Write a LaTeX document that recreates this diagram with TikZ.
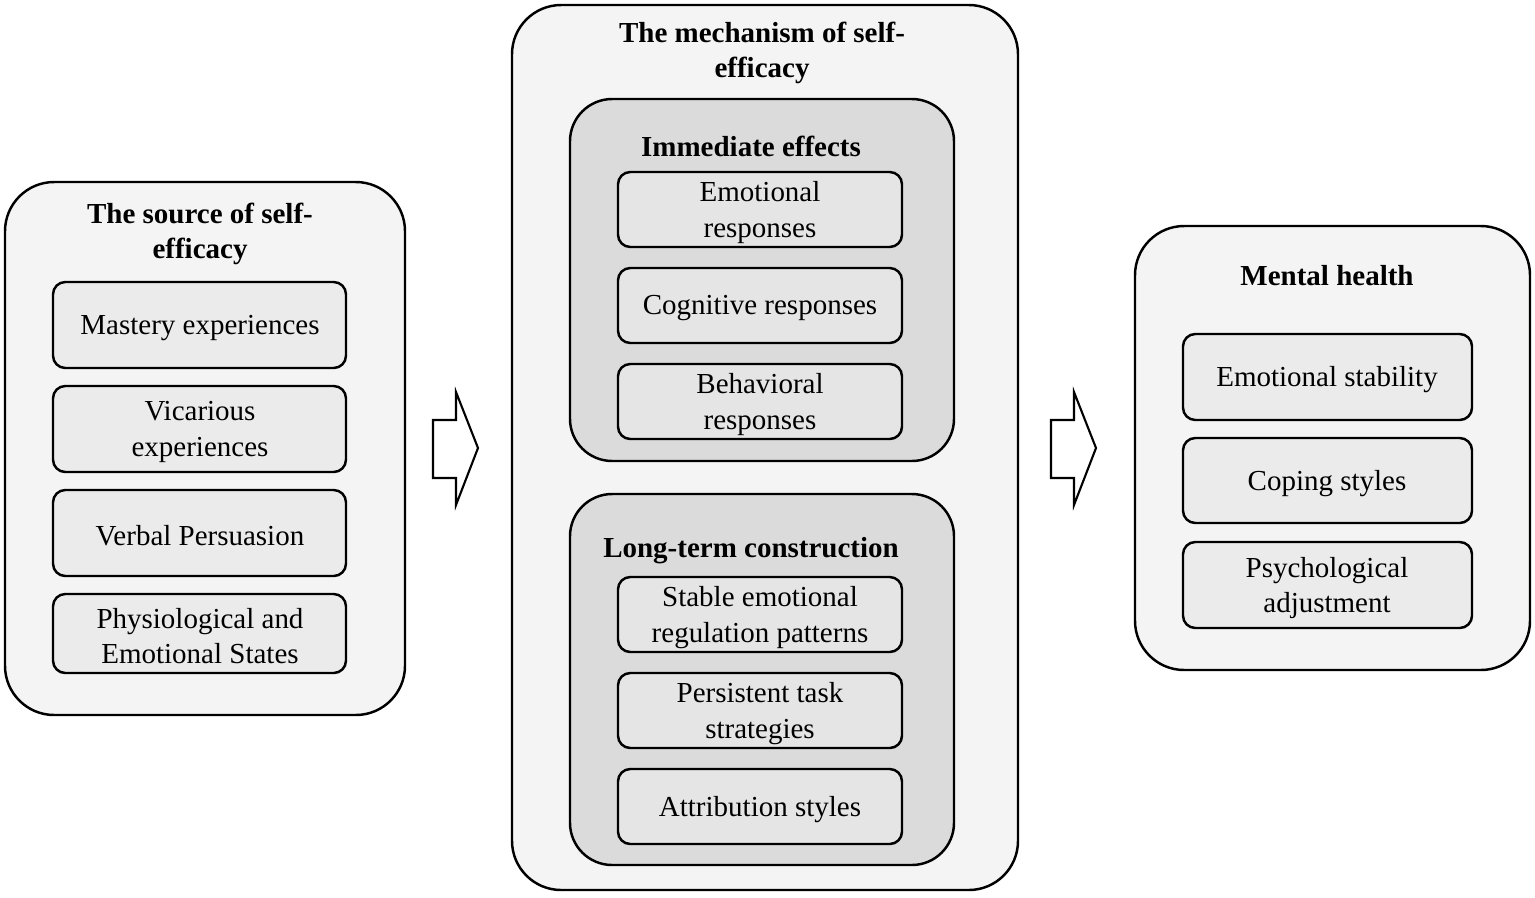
\documentclass[tikz,border=0pt]{standalone}
\usepackage{fontspec}
\setmainfont{Liberation Serif}
\begin{document}
\begin{tikzpicture}[x=0.02cm,y=-0.02cm,
 outer/.style={draw,line width=1.4pt,rounded corners=28pt,fill=gray!9},
 mid/.style={draw,line width=1.4pt,rounded corners=24pt,fill=gray!28},
 item/.style={draw,line width=1.4pt,rounded corners=7pt,align=center,font=\fontsize{16.5}{20}\selectfont},
 ttl/.style={align=center,font=\fontsize{16.5}{20}\selectfont\bfseries},
 barrow/.style={draw,line width=1.2pt,fill=white}]
\useasboundingbox (0,0) rectangle (1535,897);
% left
\draw[outer] (5,182) rectangle (405,715);
\node[ttl] (lt) at (200,234) {The source of self-\\efficacy};
\foreach \n/\a/\b/\t in {l1/282/368/Mastery experiences,l2/386/472/{Vicarious\\experiences},l3/490/576/Verbal Persuasion,l4/594/673/{Physiological and\\Emotional States}}{
 \draw[item,fill=gray!16] (53,\a) rectangle (346,\b);
 \node[item,draw=none] (\n) at (200,{(\a+\b)/2+3}) {\t};}
% middle
\draw[outer] (512,5) rectangle (1018,890);
\node[ttl] (mt) at (762,53) {The mechanism of self-\\efficacy};
\draw[mid] (570,99) rectangle (954,461);
\node[ttl] (it) at (751,146) {Immediate effects};
\draw[mid] (570,494) rectangle (954,865);
\node[ttl] (ltc) at (751,551) {Long-term construction};
\foreach \n/\a/\b/\t in {m1/172/247/{Emotional\\responses},m2/268/343/Cognitive responses,m3/364/439/{Behavioral\\responses},m4/577/652/{Stable emotional\\regulation patterns},m5/673/748/{Persistent task\\strategies},m6/769/844/Attribution styles}{
 \draw[item,fill=gray!20] (618,\a) rectangle (902,\b);
 \node[item,draw=none] (\n) at (760,{(\a+\b)/2+3}) {\t};}
% right
\draw[outer] (1135,226) rectangle (1530,670);
\node[ttl] (rt) at (1327,276) {Mental health};
\foreach \n/\a/\b/\t in {r1/334/420/Emotional stability,r2/438/523/Coping styles,r3/542/628/{Psychological\\adjustment}}{
 \draw[item,fill=gray!16] (1183,\a) rectangle (1472,\b);
 \node[item,draw=none] (\n) at (1327,{(\a+\b)/2+3}) {\t};}
% arrows
\foreach \x in {433,1051}{
 \draw[barrow] (\x,420) -- (\x+23,420) -- (\x+23,392) -- (\x+45,448) -- (\x+23,505) -- (\x+23,478) -- (\x,478) -- cycle;}
\end{tikzpicture}
\end{document}
